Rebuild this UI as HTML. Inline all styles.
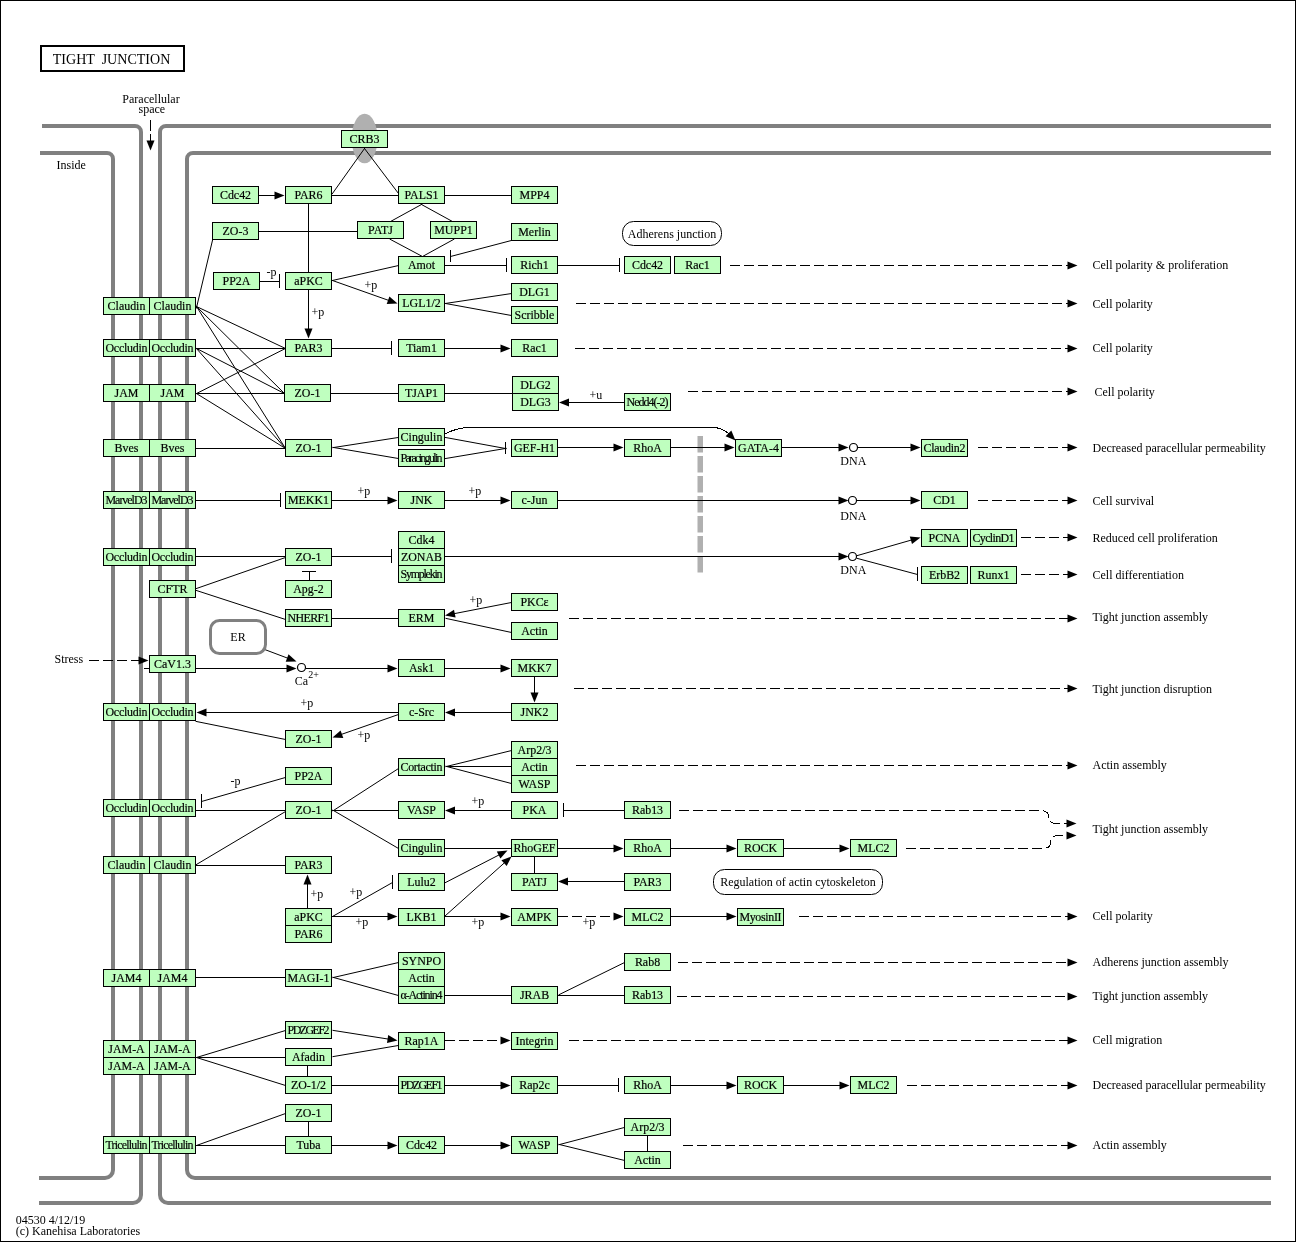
<!DOCTYPE html>
<html lang="en"><head><meta charset="utf-8"><title>Tight junction</title>
<style>html,body{margin:0;padding:0;background:#fff}svg{display:block}text{font-family:"Liberation Serif",serif;font-size:12px;fill:#000}.b{fill:#BFFFBF;stroke:#000;stroke-width:1}.l{stroke:#000;stroke-width:1;fill:none}.d{stroke:#000;stroke-width:1;fill:none;stroke-dasharray:10 4}.m{stroke:#808080;stroke-width:4;fill:none}.g{fill:#b0b0b0}.t{text-anchor:middle}.bl text{font-size:13.5px;text-anchor:middle;stroke:#000;stroke-width:.2px}</style></head><body>
<svg width="1296" height="1242" viewBox="0 0 1296 1242">
<rect x="0" y="0" width="1296" height="1242" fill="#fff"/>
<g transform="translate(0.5,0.5)">
<rect x="0" y="0" width="1295" height="1241" fill="none" stroke="#000" shape-rendering="crispEdges"/>
<g transform="translate(-0.5,-0.5)">
<path class="m" d="M42 126H135A6 6 0 0 1 141 132V1195A8 8 0 0 1 133 1203H39"/>
<path class="m" d="M40 153H107A6 6 0 0 1 113 159V1170A8 8 0 0 1 105 1178H39"/>
<path class="m" d="M1271 126H166A6 6 0 0 0 160 132V1195A8 8 0 0 0 168 1203H1271"/>
<path class="m" d="M1271 153H193A6 6 0 0 0 187 159V1170A8 8 0 0 0 195 1178H1271"/>
<ellipse class="g" cx="364.6" cy="138.5" rx="13" ry="24.8"/>
<rect class="g" x="697.5" y="436" width="5.5" height="16.5"/>
<rect class="g" x="697.5" y="456" width="5.5" height="16.5"/>
<rect class="g" x="697.5" y="476" width="5.5" height="16.5"/>
<rect class="g" x="697.5" y="496" width="5.5" height="16.5"/>
<rect class="g" x="697.5" y="516" width="5.5" height="16.5"/>
<rect class="g" x="697.5" y="536" width="5.5" height="16.5"/>
<rect class="g" x="697.5" y="556" width="5.5" height="16.5"/>
</g>
<g shape-rendering="crispEdges">
<line class="l" x1="258.0" y1="195.0" x2="278.0" y2="195.0"/>
<line class="l" x1="331.4" y1="193.8" x2="364.6" y2="147.2" stroke-width="0.81" shape-rendering="auto"/>
<line class="l" x1="363.4" y1="147.2" x2="398.6" y2="193.8" stroke-width="0.80" shape-rendering="auto"/>
<line class="l" x1="331.0" y1="195.0" x2="399.0" y2="195.0"/>
<line class="l" x1="444.0" y1="195.0" x2="512.0" y2="195.0"/>
<line class="l" x1="308.0" y1="203.0" x2="308.0" y2="273.0"/>
<line class="l" x1="258.0" y1="231.0" x2="358.0" y2="231.0"/>
<line class="l" x1="421.9" y1="203.5" x2="389.1" y2="221.5" stroke-width="0.88" shape-rendering="auto"/>
<line class="l" x1="420.1" y1="203.5" x2="452.9" y2="221.5" stroke-width="0.88" shape-rendering="auto"/>
<line class="l" x1="389.1" y1="238.5" x2="422.9" y2="256.5" stroke-width="0.88" shape-rendering="auto"/>
<line class="l" x1="453.9" y1="238.5" x2="421.1" y2="256.5" stroke-width="0.88" shape-rendering="auto"/>
<line class="l" x1="399.0" y1="264.8" x2="331.0" y2="280.2" stroke-width="0.98" shape-rendering="auto"/>
<line class="l" x1="331.1" y1="279.7" x2="391.3" y2="301.0" stroke-width="0.94" shape-rendering="auto"/>
<line class="l" x1="259.0" y1="281.0" x2="279.0" y2="281.0"/>
<line class="l" x1="308.0" y1="289.0" x2="308.0" y2="332.0"/>
<line class="l" x1="331.0" y1="348.0" x2="391.0" y2="348.0"/>
<line class="l" x1="444.0" y1="348.0" x2="504.0" y2="348.0"/>
<line class="l" x1="330.0" y1="393.0" x2="399.0" y2="393.0"/>
<line class="l" x1="444.0" y1="393.0" x2="513.0" y2="393.0"/>
<line class="l" x1="512.0" y1="239.7" x2="450.0" y2="256.0" stroke-width="0.97" shape-rendering="auto"/>
<line class="l" x1="444.0" y1="265.0" x2="506.0" y2="265.0"/>
<line class="l" x1="557.0" y1="265.0" x2="619.0" y2="265.0"/>
<line class="l" x1="444.0" y1="303.1" x2="512.0" y2="292.9" stroke-width="0.99" shape-rendering="auto"/>
<line class="l" x1="444.0" y1="302.8" x2="512.0" y2="315.2" stroke-width="0.98" shape-rendering="auto"/>
<line class="l" x1="212.2" y1="239.0" x2="195.8" y2="308.0" stroke-width="0.97" shape-rendering="auto"/>
<line class="l" x1="625.0" y1="402.0" x2="564.5" y2="402.0"/>
<line class="l" x1="195.1" y1="305.6" x2="285.9" y2="348.4" stroke-width="0.90" shape-rendering="auto"/>
<line class="l" x1="195.3" y1="305.3" x2="284.7" y2="393.7" stroke-width="0.71" shape-rendering="auto"/>
<line class="l" x1="195.5" y1="305.2" x2="285.5" y2="448.8" stroke-width="0.85" shape-rendering="auto"/>
<line class="l" x1="195.0" y1="348.0" x2="286.0" y2="348.0"/>
<line class="l" x1="195.1" y1="347.5" x2="284.9" y2="393.5" stroke-width="0.89" shape-rendering="auto"/>
<line class="l" x1="195.3" y1="347.3" x2="285.7" y2="448.7" stroke-width="0.75" shape-rendering="auto"/>
<line class="l" x1="195.1" y1="393.5" x2="285.9" y2="347.5" stroke-width="0.89" shape-rendering="auto"/>
<line class="l" x1="195.0" y1="393.0" x2="285.0" y2="393.0"/>
<line class="l" x1="195.1" y1="392.5" x2="285.9" y2="448.5" stroke-width="0.85" shape-rendering="auto"/>
<line class="l" x1="195.0" y1="448.0" x2="286.0" y2="448.0"/>
<line class="l" x1="332.0" y1="447.2" x2="399.0" y2="436.8" stroke-width="0.99" shape-rendering="auto"/>
<line class="l" x1="332.0" y1="446.8" x2="399.0" y2="458.2" stroke-width="0.99" shape-rendering="auto"/>
<line class="l" x1="444.0" y1="436.8" x2="506.0" y2="448.2" stroke-width="0.98" shape-rendering="auto"/>
<line class="l" x1="444.0" y1="458.2" x2="506.0" y2="447.8" stroke-width="0.99" shape-rendering="auto"/>
<line class="l" x1="557.0" y1="447.0" x2="617.0" y2="447.0"/>
<line class="l" x1="670.0" y1="447.0" x2="728.0" y2="447.0"/>
<line class="l" x1="781.0" y1="447.0" x2="842.0" y2="447.0"/>
<line class="l" x1="857.0" y1="447.0" x2="914.0" y2="447.0"/>
<line class="l" x1="195.0" y1="500.0" x2="280.0" y2="500.0"/>
<line class="l" x1="331.0" y1="500.0" x2="391.0" y2="500.0"/>
<line class="l" x1="444.0" y1="500.0" x2="504.0" y2="500.0"/>
<line class="l" x1="557.0" y1="500.0" x2="842.0" y2="500.0"/>
<line class="l" x1="856.0" y1="500.0" x2="914.0" y2="500.0"/>
<line class="l" x1="195.0" y1="556.0" x2="286.0" y2="556.0"/>
<line class="l" x1="331.0" y1="556.0" x2="391.0" y2="556.0"/>
<line class="l" x1="444.0" y1="556.0" x2="842.0" y2="556.0"/>
<line class="l" x1="856.0" y1="555.3" x2="914.2" y2="538.6" stroke-width="0.96" shape-rendering="auto"/>
<line class="l" x1="856.0" y1="557.7" x2="917.0" y2="574.0" stroke-width="0.97" shape-rendering="auto"/>
<line class="l" x1="309.0" y1="581.0" x2="309.0" y2="570.0"/>
<line class="l" x1="195.1" y1="588.3" x2="285.9" y2="556.7" stroke-width="0.94" shape-rendering="auto"/>
<line class="l" x1="195.0" y1="589.7" x2="286.0" y2="619.3" stroke-width="0.95" shape-rendering="auto"/>
<line class="l" x1="331.0" y1="618.0" x2="399.0" y2="618.0"/>
<line class="l" x1="512.0" y1="601.8" x2="450.4" y2="613.8" stroke-width="0.98" shape-rendering="auto"/>
<line class="l" x1="445.0" y1="617.8" x2="512.0" y2="632.2" stroke-width="0.98" shape-rendering="auto"/>
<line class="d" x1="88.0" y1="660.0" x2="142.0" y2="660.0"/>
<line class="l" x1="143.0" y1="668.0" x2="150.0" y2="668.0"/>
<line class="l" x1="195.0" y1="668.0" x2="290.0" y2="668.0"/>
<line class="l" x1="305.0" y1="668.0" x2="391.0" y2="668.0"/>
<line class="l" x1="444.0" y1="668.0" x2="504.0" y2="668.0"/>
<line class="l" x1="263.1" y1="648.6" x2="290.4" y2="658.9" stroke-width="0.94" shape-rendering="auto"/>
<line class="l" x1="534.0" y1="676.0" x2="534.0" y2="696.0"/>
<line class="l" x1="512.0" y1="712.0" x2="450.5" y2="712.0"/>
<line class="l" x1="399.0" y1="712.0" x2="202.0" y2="712.0"/>
<line class="l" x1="398.9" y1="713.7" x2="337.7" y2="735.0" stroke-width="0.94" shape-rendering="auto"/>
<line class="l" x1="195.0" y1="720.8" x2="286.0" y2="739.2" stroke-width="0.98" shape-rendering="auto"/>
<line class="l" x1="445.0" y1="766.2" x2="512.0" y2="749.8" stroke-width="0.97" shape-rendering="auto"/>
<line class="l" x1="445.0" y1="766.0" x2="512.0" y2="766.0"/>
<line class="l" x1="445.0" y1="765.7" x2="512.0" y2="783.3" stroke-width="0.97" shape-rendering="auto"/>
<line class="l" x1="332.2" y1="810.5" x2="398.8" y2="767.5" stroke-width="0.84" shape-rendering="auto"/>
<line class="l" x1="331.0" y1="810.0" x2="399.0" y2="810.0"/>
<line class="l" x1="332.1" y1="809.5" x2="398.9" y2="848.5" stroke-width="0.86" shape-rendering="auto"/>
<line class="l" x1="286.0" y1="776.7" x2="201.0" y2="801.0" stroke-width="0.96" shape-rendering="auto"/>
<line class="l" x1="195.0" y1="810.0" x2="286.0" y2="810.0"/>
<line class="l" x1="195.1" y1="864.5" x2="285.9" y2="810.5" stroke-width="0.86" shape-rendering="auto"/>
<line class="l" x1="195.0" y1="865.0" x2="286.0" y2="865.0"/>
<line class="l" x1="512.0" y1="810.0" x2="450.5" y2="810.0"/>
<line class="l" x1="625.0" y1="810.0" x2="563.0" y2="810.0"/>
<line class="l" x1="444.0" y1="848.0" x2="512.0" y2="848.0"/>
<line class="l" x1="557.0" y1="848.0" x2="617.0" y2="848.0"/>
<line class="l" x1="670.0" y1="848.0" x2="730.0" y2="848.0"/>
<line class="l" x1="783.0" y1="848.0" x2="843.0" y2="848.0"/>
<line class="l" x1="534.0" y1="856.0" x2="534.0" y2="874.0"/>
<line class="l" x1="625.0" y1="881.0" x2="563.5" y2="881.0"/>
<line class="l" x1="307.0" y1="909.0" x2="307.0" y2="880.0"/>
<line class="l" x1="331.1" y1="916.5" x2="392.0" y2="882.0" stroke-width="0.87" shape-rendering="auto"/>
<line class="l" x1="331.0" y1="916.0" x2="391.0" y2="916.0"/>
<line class="l" x1="444.1" y1="882.5" x2="501.7" y2="852.8" stroke-width="0.89" shape-rendering="auto"/>
<line class="l" x1="444.3" y1="915.7" x2="506.5" y2="860.0" stroke-width="0.75" shape-rendering="auto"/>
<line class="l" x1="444.0" y1="916.0" x2="504.0" y2="916.0"/>
<line class="d" x1="557.0" y1="916.0" x2="617.0" y2="916.0"/>
<line class="l" x1="670.0" y1="916.0" x2="730.0" y2="916.0"/>
<line class="l" x1="195.0" y1="977.0" x2="286.0" y2="977.0"/>
<line class="l" x1="332.0" y1="977.2" x2="399.0" y2="961.8" stroke-width="0.97" shape-rendering="auto"/>
<line class="l" x1="332.0" y1="976.7" x2="399.0" y2="995.3" stroke-width="0.96" shape-rendering="auto"/>
<line class="l" x1="444.0" y1="995.0" x2="512.0" y2="995.0"/>
<line class="l" x1="557.0" y1="995.0" x2="625.0" y2="995.0"/>
<line class="l" x1="558.1" y1="994.4" x2="624.9" y2="961.6" stroke-width="0.90" shape-rendering="auto"/>
<line class="l" x1="195.0" y1="1057.3" x2="286.0" y2="1029.7" stroke-width="0.96" shape-rendering="auto"/>
<line class="l" x1="195.0" y1="1057.0" x2="286.0" y2="1057.0"/>
<line class="l" x1="195.0" y1="1056.7" x2="286.0" y2="1085.3" stroke-width="0.95" shape-rendering="auto"/>
<line class="l" x1="332.0" y1="1029.8" x2="391.1" y2="1039.1" stroke-width="0.99" shape-rendering="auto"/>
<line class="l" x1="332.0" y1="1056.2" x2="399.0" y2="1044.8" stroke-width="0.99" shape-rendering="auto"/>
<line class="l" x1="307.0" y1="1065.0" x2="307.0" y2="1077.0"/>
<line class="d" x1="444.0" y1="1040.0" x2="504.0" y2="1040.0"/>
<line class="l" x1="331.0" y1="1085.0" x2="399.0" y2="1085.0"/>
<line class="l" x1="444.0" y1="1085.0" x2="504.0" y2="1085.0"/>
<line class="l" x1="557.0" y1="1085.0" x2="618.0" y2="1085.0"/>
<line class="l" x1="670.0" y1="1085.0" x2="730.0" y2="1085.0"/>
<line class="l" x1="783.0" y1="1085.0" x2="843.0" y2="1085.0"/>
<line class="l" x1="195.1" y1="1145.3" x2="285.9" y2="1112.7" stroke-width="0.94" shape-rendering="auto"/>
<line class="l" x1="195.0" y1="1145.0" x2="286.0" y2="1145.0"/>
<line class="l" x1="308.0" y1="1121.0" x2="308.0" y2="1137.0"/>
<line class="l" x1="331.0" y1="1145.0" x2="391.0" y2="1145.0"/>
<line class="l" x1="444.0" y1="1145.0" x2="504.0" y2="1145.0"/>
<line class="l" x1="558.0" y1="1144.3" x2="625.0" y2="1126.7" stroke-width="0.97" shape-rendering="auto"/>
<line class="l" x1="558.0" y1="1143.8" x2="625.0" y2="1160.2" stroke-width="0.97" shape-rendering="auto"/>
<line class="l" x1="647.0" y1="1135.0" x2="647.0" y2="1152.0"/>
<line class="d" x1="729.0" y1="265.0" x2="1071.0" y2="265.0"/>
<line class="d" x1="575.0" y1="303.0" x2="1071.0" y2="303.0"/>
<line class="d" x1="574.0" y1="348.0" x2="1071.0" y2="348.0"/>
<line class="d" x1="687.0" y1="391.0" x2="1071.0" y2="391.0"/>
<line class="d" x1="977.0" y1="447.0" x2="1071.0" y2="447.0"/>
<line class="d" x1="977.0" y1="500.0" x2="1071.0" y2="500.0"/>
<line class="d" x1="1020.0" y1="537.0" x2="1071.0" y2="537.0"/>
<line class="d" x1="1020.0" y1="574.0" x2="1071.0" y2="574.0"/>
<line class="d" x1="568.0" y1="618.0" x2="1071.0" y2="618.0"/>
<line class="d" x1="573.0" y1="688.0" x2="1071.0" y2="688.0"/>
<line class="d" x1="575.0" y1="765.0" x2="1071.0" y2="765.0"/>
<line class="d" x1="798.0" y1="916.0" x2="1071.0" y2="916.0"/>
<line class="d" x1="677.0" y1="962.0" x2="1071.0" y2="962.0"/>
<line class="d" x1="676.0" y1="996.0" x2="1071.0" y2="996.0"/>
<line class="d" x1="568.0" y1="1040.0" x2="1071.0" y2="1040.0"/>
<line class="d" x1="906.0" y1="1085.0" x2="1071.0" y2="1085.0"/>
<line class="d" x1="682.0" y1="1145.0" x2="1071.0" y2="1145.0"/>
<path class="l" d="M445 433Q458 427 468 427H712Q722 427 729 434"/>
<path class="d" d="M678 810H1040Q1048 810 1048 816Q1048 823 1056 823H1068"/>
<path class="d" d="M905 848H1042Q1050 848 1050 842Q1050 835 1058 835H1068"/>
<line class="l" x1="279.0" y1="273.5" x2="279.0" y2="287.5"/>
<line class="l" x1="391.0" y1="340.5" x2="391.0" y2="354.5"/>
<line class="l" x1="450.0" y1="249.5" x2="450.0" y2="261.5"/>
<line class="l" x1="506.0" y1="257.5" x2="506.0" y2="271.5"/>
<line class="l" x1="619.0" y1="257.5" x2="619.0" y2="271.5"/>
<line class="l" x1="505.0" y1="441.5" x2="505.0" y2="453.5"/>
<line class="l" x1="280.0" y1="492.5" x2="280.0" y2="506.5"/>
<line class="l" x1="391.0" y1="548.5" x2="391.0" y2="562.5"/>
<line class="l" x1="917.0" y1="566.5" x2="917.0" y2="580.5"/>
<line class="l" x1="301.5" y1="571.0" x2="315.5" y2="571.0"/>
<line class="l" x1="201.0" y1="793.5" x2="201.0" y2="807.5"/>
<line class="l" x1="563.0" y1="802.5" x2="563.0" y2="816.5"/>
<line class="l" x1="392.0" y1="874.5" x2="392.0" y2="888.5"/>
<line class="l" x1="618.0" y1="1077.5" x2="618.0" y2="1091.5"/>
</g>
<polygon points="284.0,195.0 274.0,199.0 274.0,191.0" fill="#000"/>
<polygon points="397.0,303.0 386.2,303.4 388.9,295.9" fill="#000"/>
<polygon points="308.0,338.0 304.0,328.0 312.0,328.0" fill="#000"/>
<polygon points="510.0,348.0 500.0,352.0 500.0,344.0" fill="#000"/>
<polygon points="558.5,402.0 568.5,398.0 568.5,406.0" fill="#000"/>
<polygon points="623.0,447.0 613.0,451.0 613.0,443.0" fill="#000"/>
<polygon points="734.0,447.0 724.0,451.0 724.0,443.0" fill="#000"/>
<polygon points="848.0,447.0 838.0,451.0 838.0,443.0" fill="#000"/>
<polygon points="920.0,447.0 910.0,451.0 910.0,443.0" fill="#000"/>
<polygon points="397.0,500.0 387.0,504.0 387.0,496.0" fill="#000"/>
<polygon points="510.0,500.0 500.0,504.0 500.0,496.0" fill="#000"/>
<polygon points="848.0,500.0 838.0,504.0 838.0,496.0" fill="#000"/>
<polygon points="920.0,500.0 910.0,504.0 910.0,496.0" fill="#000"/>
<polygon points="848.0,556.0 838.0,560.0 838.0,552.0" fill="#000"/>
<polygon points="920.0,537.0 911.5,543.6 909.3,535.9" fill="#000"/>
<polygon points="444.5,615.0 453.5,609.2 455.1,617.0" fill="#000"/>
<polygon points="148.0,660.0 138.0,664.0 138.0,656.0" fill="#000"/>
<polygon points="296.0,668.0 286.0,672.0 286.0,664.0" fill="#000"/>
<polygon points="397.0,668.0 387.0,672.0 387.0,664.0" fill="#000"/>
<polygon points="510.0,668.0 500.0,672.0 500.0,664.0" fill="#000"/>
<polygon points="296.0,661.0 285.2,661.2 288.0,653.7" fill="#000"/>
<polygon points="534.0,702.0 530.0,692.0 538.0,692.0" fill="#000"/>
<polygon points="444.5,712.0 454.5,708.0 454.5,716.0" fill="#000"/>
<polygon points="196.0,712.0 206.0,708.0 206.0,716.0" fill="#000"/>
<polygon points="332.0,737.0 340.1,729.9 342.8,737.5" fill="#000"/>
<polygon points="444.5,810.0 454.5,806.0 454.5,814.0" fill="#000"/>
<polygon points="623.0,848.0 613.0,852.0 613.0,844.0" fill="#000"/>
<polygon points="736.0,848.0 726.0,852.0 726.0,844.0" fill="#000"/>
<polygon points="849.0,848.0 839.0,852.0 839.0,844.0" fill="#000"/>
<polygon points="557.5,881.0 567.5,877.0 567.5,885.0" fill="#000"/>
<polygon points="307.0,874.0 311.0,884.0 303.0,884.0" fill="#000"/>
<polygon points="397.0,916.0 387.0,920.0 387.0,912.0" fill="#000"/>
<polygon points="507.0,850.0 499.9,858.1 496.3,851.0" fill="#000"/>
<polygon points="511.0,856.0 506.2,865.6 500.9,859.7" fill="#000"/>
<polygon points="510.0,916.0 500.0,920.0 500.0,912.0" fill="#000"/>
<polygon points="623.0,916.0 613.0,920.0 613.0,912.0" fill="#000"/>
<polygon points="736.0,916.0 726.0,920.0 726.0,912.0" fill="#000"/>
<polygon points="397.0,1040.0 386.5,1042.4 387.7,1034.5" fill="#000"/>
<polygon points="510.0,1040.0 500.0,1044.0 500.0,1036.0" fill="#000"/>
<polygon points="510.0,1085.0 500.0,1089.0 500.0,1081.0" fill="#000"/>
<polygon points="736.0,1085.0 726.0,1089.0 726.0,1081.0" fill="#000"/>
<polygon points="849.0,1085.0 839.0,1089.0 839.0,1081.0" fill="#000"/>
<polygon points="397.0,1145.0 387.0,1149.0 387.0,1141.0" fill="#000"/>
<polygon points="510.0,1145.0 500.0,1149.0 500.0,1141.0" fill="#000"/>
<polygon points="1077.0,265.0 1067.0,269.0 1067.0,261.0" fill="#000"/>
<polygon points="1077.0,303.0 1067.0,307.0 1067.0,299.0" fill="#000"/>
<polygon points="1077.0,348.0 1067.0,352.0 1067.0,344.0" fill="#000"/>
<polygon points="1077.0,391.0 1067.0,395.0 1067.0,387.0" fill="#000"/>
<polygon points="1077.0,447.0 1067.0,451.0 1067.0,443.0" fill="#000"/>
<polygon points="1077.0,500.0 1067.0,504.0 1067.0,496.0" fill="#000"/>
<polygon points="1077.0,537.0 1067.0,541.0 1067.0,533.0" fill="#000"/>
<polygon points="1077.0,574.0 1067.0,578.0 1067.0,570.0" fill="#000"/>
<polygon points="1077.0,618.0 1067.0,622.0 1067.0,614.0" fill="#000"/>
<polygon points="1077.0,688.0 1067.0,692.0 1067.0,684.0" fill="#000"/>
<polygon points="1077.0,765.0 1067.0,769.0 1067.0,761.0" fill="#000"/>
<polygon points="1077.0,916.0 1067.0,920.0 1067.0,912.0" fill="#000"/>
<polygon points="1077.0,962.0 1067.0,966.0 1067.0,958.0" fill="#000"/>
<polygon points="1077.0,996.0 1067.0,1000.0 1067.0,992.0" fill="#000"/>
<polygon points="1077.0,1040.0 1067.0,1044.0 1067.0,1036.0" fill="#000"/>
<polygon points="1077.0,1085.0 1067.0,1089.0 1067.0,1081.0" fill="#000"/>
<polygon points="1077.0,1145.0 1067.0,1149.0 1067.0,1141.0" fill="#000"/>
<polygon points="735.0,440.0 725.1,435.8 730.8,430.1" fill="#000"/>
<polygon points="1076.0,823.0 1066.0,827.0 1066.0,819.0" fill="#000"/>
<polygon points="1076.0,835.0 1066.0,839.0 1066.0,831.0" fill="#000"/>
<circle cx="853" cy="447" r="4" fill="#fff" stroke="#000" stroke-width="1.2"/>
<circle cx="852" cy="500" r="4" fill="#fff" stroke="#000" stroke-width="1.2"/>
<circle cx="852" cy="556" r="4" fill="#fff" stroke="#000" stroke-width="1.2"/>
<circle cx="301" cy="667" r="4" fill="#fff" stroke="#000" stroke-width="1.2"/>
<g shape-rendering="crispEdges">
<rect class="b" x="103" y="297" width="46" height="17"/>
<rect class="b" x="149" y="297" width="46" height="17"/>
<rect class="b" x="103" y="339" width="46" height="17"/>
<rect class="b" x="149" y="339" width="46" height="17"/>
<rect class="b" x="103" y="384" width="46" height="17"/>
<rect class="b" x="149" y="384" width="46" height="17"/>
<rect class="b" x="103" y="439" width="46" height="17"/>
<rect class="b" x="149" y="439" width="46" height="17"/>
<rect class="b" x="103" y="491" width="46" height="17"/>
<rect class="b" x="149" y="491" width="46" height="17"/>
<rect class="b" x="103" y="548" width="46" height="17"/>
<rect class="b" x="149" y="548" width="46" height="17"/>
<rect class="b" x="103" y="703" width="46" height="17"/>
<rect class="b" x="149" y="703" width="46" height="17"/>
<rect class="b" x="103" y="799" width="46" height="17"/>
<rect class="b" x="149" y="799" width="46" height="17"/>
<rect class="b" x="103" y="856" width="46" height="17"/>
<rect class="b" x="149" y="856" width="46" height="17"/>
<rect class="b" x="103" y="969" width="46" height="17"/>
<rect class="b" x="149" y="969" width="46" height="17"/>
<rect class="b" x="103" y="1040" width="46" height="17"/>
<rect class="b" x="149" y="1040" width="46" height="17"/>
<rect class="b" x="103" y="1057" width="46" height="17"/>
<rect class="b" x="149" y="1057" width="46" height="17"/>
<rect class="b" x="103" y="1136" width="46" height="17"/>
<rect class="b" x="149" y="1136" width="46" height="17"/>
<rect class="b" x="149" y="580" width="46" height="17"/>
<rect class="b" x="149" y="655" width="46" height="17"/>
<rect class="b" x="341" y="130" width="46" height="17"/>
<rect class="b" x="212" y="186" width="46" height="17"/>
<rect class="b" x="285" y="186" width="46" height="17"/>
<rect class="b" x="398" y="186" width="46" height="17"/>
<rect class="b" x="511" y="186" width="46" height="17"/>
<rect class="b" x="212" y="222" width="46" height="17"/>
<rect class="b" x="357" y="221" width="46" height="17"/>
<rect class="b" x="430" y="221" width="46" height="17"/>
<rect class="b" x="511" y="223" width="46" height="17"/>
<rect class="b" x="398" y="256" width="46" height="17"/>
<rect class="b" x="511" y="256" width="46" height="17"/>
<rect class="b" x="624" y="256" width="46" height="17"/>
<rect class="b" x="674" y="256" width="46" height="17"/>
<rect class="b" x="213" y="272" width="46" height="17"/>
<rect class="b" x="285" y="272" width="46" height="17"/>
<rect class="b" x="511" y="283" width="46" height="17"/>
<rect class="b" x="398" y="294" width="46" height="17"/>
<rect class="b" x="511" y="306" width="46" height="17"/>
<rect class="b" x="285" y="339" width="46" height="17"/>
<rect class="b" x="398" y="339" width="46" height="17"/>
<rect class="b" x="511" y="339" width="46" height="17"/>
<rect class="b" x="512" y="376" width="46" height="17"/>
<rect class="b" x="512" y="393" width="46" height="17"/>
<rect class="b" x="284" y="384" width="46" height="17"/>
<rect class="b" x="398" y="384" width="46" height="17"/>
<rect class="b" x="624" y="393" width="46" height="17"/>
<rect class="b" x="398" y="428" width="46" height="17"/>
<rect class="b" x="398" y="449" width="46" height="17"/>
<rect class="b" x="285" y="439" width="46" height="17"/>
<rect class="b" x="511" y="439" width="46" height="17"/>
<rect class="b" x="624" y="439" width="46" height="17"/>
<rect class="b" x="735" y="439" width="46" height="17"/>
<rect class="b" x="921" y="439" width="46" height="17"/>
<rect class="b" x="285" y="491" width="46" height="17"/>
<rect class="b" x="398" y="491" width="46" height="17"/>
<rect class="b" x="511" y="491" width="46" height="17"/>
<rect class="b" x="921" y="491" width="46" height="17"/>
<rect class="b" x="398" y="531" width="46" height="17"/>
<rect class="b" x="398" y="548" width="46" height="17"/>
<rect class="b" x="398" y="565" width="46" height="17"/>
<rect class="b" x="285" y="548" width="46" height="17"/>
<rect class="b" x="921" y="529" width="46" height="17"/>
<rect class="b" x="970" y="529" width="46" height="17"/>
<rect class="b" x="921" y="566" width="46" height="17"/>
<rect class="b" x="970" y="566" width="46" height="17"/>
<rect class="b" x="285" y="580" width="46" height="17"/>
<rect class="b" x="511" y="593" width="46" height="17"/>
<rect class="b" x="285" y="609" width="46" height="17"/>
<rect class="b" x="398" y="609" width="46" height="17"/>
<rect class="b" x="511" y="622" width="46" height="17"/>
<rect class="b" x="398" y="659" width="46" height="17"/>
<rect class="b" x="511" y="659" width="46" height="17"/>
<rect class="b" x="398" y="703" width="46" height="17"/>
<rect class="b" x="511" y="703" width="46" height="17"/>
<rect class="b" x="285" y="730" width="46" height="17"/>
<rect class="b" x="511" y="741" width="46" height="17"/>
<rect class="b" x="511" y="758" width="46" height="17"/>
<rect class="b" x="511" y="775" width="46" height="17"/>
<rect class="b" x="398" y="758" width="46" height="17"/>
<rect class="b" x="285" y="767" width="46" height="17"/>
<rect class="b" x="285" y="801" width="46" height="17"/>
<rect class="b" x="398" y="801" width="46" height="17"/>
<rect class="b" x="511" y="801" width="46" height="17"/>
<rect class="b" x="624" y="801" width="46" height="17"/>
<rect class="b" x="398" y="839" width="46" height="17"/>
<rect class="b" x="511" y="839" width="46" height="17"/>
<rect class="b" x="624" y="839" width="46" height="17"/>
<rect class="b" x="737" y="839" width="46" height="17"/>
<rect class="b" x="850" y="839" width="46" height="17"/>
<rect class="b" x="285" y="856" width="46" height="17"/>
<rect class="b" x="398" y="873" width="46" height="17"/>
<rect class="b" x="511" y="873" width="46" height="17"/>
<rect class="b" x="624" y="873" width="46" height="17"/>
<rect class="b" x="285" y="908" width="46" height="17"/>
<rect class="b" x="285" y="925" width="46" height="17"/>
<rect class="b" x="398" y="908" width="46" height="17"/>
<rect class="b" x="511" y="908" width="46" height="17"/>
<rect class="b" x="624" y="908" width="46" height="17"/>
<rect class="b" x="737" y="908" width="46" height="17"/>
<rect class="b" x="398" y="952" width="46" height="17"/>
<rect class="b" x="398" y="969" width="46" height="17"/>
<rect class="b" x="398" y="986" width="46" height="17"/>
<rect class="b" x="285" y="969" width="46" height="17"/>
<rect class="b" x="624" y="953" width="46" height="17"/>
<rect class="b" x="511" y="986" width="46" height="17"/>
<rect class="b" x="624" y="986" width="46" height="17"/>
<rect class="b" x="285" y="1021" width="46" height="17"/>
<rect class="b" x="285" y="1048" width="46" height="17"/>
<rect class="b" x="285" y="1076" width="46" height="17"/>
<rect class="b" x="398" y="1076" width="46" height="17"/>
<rect class="b" x="511" y="1076" width="46" height="17"/>
<rect class="b" x="624" y="1076" width="46" height="17"/>
<rect class="b" x="737" y="1076" width="46" height="17"/>
<rect class="b" x="850" y="1076" width="46" height="17"/>
<rect class="b" x="398" y="1032" width="46" height="17"/>
<rect class="b" x="511" y="1032" width="46" height="17"/>
<rect class="b" x="285" y="1104" width="46" height="17"/>
<rect class="b" x="285" y="1136" width="46" height="17"/>
<rect class="b" x="398" y="1136" width="46" height="17"/>
<rect class="b" x="511" y="1136" width="46" height="17"/>
<rect class="b" x="624" y="1118" width="46" height="17"/>
<rect class="b" x="624" y="1151" width="46" height="17"/>
</g>
<rect x="40.5" y="45.5" width="143" height="25" fill="#fff" stroke="#000" stroke-width="2" shape-rendering="crispEdges"/>
<rect x="622" y="221" width="99" height="24" rx="11" ry="11" fill="#fff" stroke="#000"/>
<rect x="713" y="869" width="169" height="25" rx="11" ry="11" fill="#fff" stroke="#000"/>
<rect x="210" y="620" width="55" height="33" rx="9" ry="9" fill="#fff" stroke="#808080" stroke-width="3"/>
<line class="d" x1="150" y1="119" x2="150" y2="142" shape-rendering="crispEdges" style="stroke-dasharray:11 3"/>
<polygon points="150,150 146,140 154,140" fill="#000"/>
</g>
<g class="bl">
<text transform="translate(126.5 310.4) scale(0.885 1)">Claudin</text>
<text transform="translate(172.5 310.4) scale(0.885 1)">Claudin</text>
<text transform="translate(126.5 352.4) scale(0.885 1)" textLength="47.5" lengthAdjust="spacing">Occludin</text>
<text transform="translate(172.5 352.4) scale(0.885 1)" textLength="47.5" lengthAdjust="spacing">Occludin</text>
<text transform="translate(126.5 397.4) scale(0.885 1)">JAM</text>
<text transform="translate(172.5 397.4) scale(0.885 1)">JAM</text>
<text transform="translate(126.5 452.4) scale(0.885 1)">Bves</text>
<text transform="translate(172.5 452.4) scale(0.885 1)">Bves</text>
<text transform="translate(126.5 504.4) scale(0.885 1)" textLength="47.5" lengthAdjust="spacing">MarvelD3</text>
<text transform="translate(172.5 504.4) scale(0.885 1)" textLength="47.5" lengthAdjust="spacing">MarvelD3</text>
<text transform="translate(126.5 561.4) scale(0.885 1)" textLength="47.5" lengthAdjust="spacing">Occludin</text>
<text transform="translate(172.5 561.4) scale(0.885 1)" textLength="47.5" lengthAdjust="spacing">Occludin</text>
<text transform="translate(126.5 716.4) scale(0.885 1)" textLength="47.5" lengthAdjust="spacing">Occludin</text>
<text transform="translate(172.5 716.4) scale(0.885 1)" textLength="47.5" lengthAdjust="spacing">Occludin</text>
<text transform="translate(126.5 812.4) scale(0.885 1)" textLength="47.5" lengthAdjust="spacing">Occludin</text>
<text transform="translate(172.5 812.4) scale(0.885 1)" textLength="47.5" lengthAdjust="spacing">Occludin</text>
<text transform="translate(126.5 869.4) scale(0.885 1)">Claudin</text>
<text transform="translate(172.5 869.4) scale(0.885 1)">Claudin</text>
<text transform="translate(126.5 982.4) scale(0.885 1)">JAM4</text>
<text transform="translate(172.5 982.4) scale(0.885 1)">JAM4</text>
<text transform="translate(126.5 1053.4) scale(0.885 1)">JAM-A</text>
<text transform="translate(172.5 1053.4) scale(0.885 1)">JAM-A</text>
<text transform="translate(126.5 1070.4) scale(0.885 1)">JAM-A</text>
<text transform="translate(172.5 1070.4) scale(0.885 1)">JAM-A</text>
<text transform="translate(126.5 1149.4) scale(0.885 1)" textLength="47.5" lengthAdjust="spacing">Tricellulin</text>
<text transform="translate(172.5 1149.4) scale(0.885 1)" textLength="47.5" lengthAdjust="spacing">Tricellulin</text>
<text transform="translate(172.5 593.4) scale(0.885 1)">CFTR</text>
<text transform="translate(172.5 668.4) scale(0.885 1)">CaV1.3</text>
<text transform="translate(364.5 143.4) scale(0.885 1)">CRB3</text>
<text transform="translate(235.5 199.4) scale(0.885 1)">Cdc42</text>
<text transform="translate(308.5 199.4) scale(0.885 1)">PAR6</text>
<text transform="translate(421.5 199.4) scale(0.885 1)">PALS1</text>
<text transform="translate(534.5 199.4) scale(0.885 1)">MPP4</text>
<text transform="translate(235.5 235.4) scale(0.885 1)">ZO-3</text>
<text transform="translate(380.5 234.4) scale(0.885 1)">PATJ</text>
<text transform="translate(453.5 234.4) scale(0.885 1)">MUPP1</text>
<text transform="translate(534.5 236.4) scale(0.885 1)">Merlin</text>
<text transform="translate(421.5 269.4) scale(0.885 1)">Amot</text>
<text transform="translate(534.5 269.4) scale(0.885 1)">Rich1</text>
<text transform="translate(647.5 269.4) scale(0.885 1)">Cdc42</text>
<text transform="translate(697.5 269.4) scale(0.885 1)">Rac1</text>
<text transform="translate(236.5 285.4) scale(0.885 1)">PP2A</text>
<text transform="translate(308.5 285.4) scale(0.885 1)">aPKC</text>
<text transform="translate(534.5 296.4) scale(0.885 1)">DLG1</text>
<text transform="translate(421.5 307.4) scale(0.885 1)">LGL1/2</text>
<text transform="translate(534.5 319.4) scale(0.885 1)">Scribble</text>
<text transform="translate(308.5 352.4) scale(0.885 1)">PAR3</text>
<text transform="translate(421.5 352.4) scale(0.885 1)">Tiam1</text>
<text transform="translate(534.5 352.4) scale(0.885 1)">Rac1</text>
<text transform="translate(535.5 389.4) scale(0.885 1)">DLG2</text>
<text transform="translate(535.5 406.4) scale(0.885 1)">DLG3</text>
<text transform="translate(307.5 397.4) scale(0.885 1)">ZO-1</text>
<text transform="translate(421.5 397.4) scale(0.885 1)">TJAP1</text>
<text transform="translate(647.5 406.4) scale(0.885 1)" textLength="47.5" lengthAdjust="spacing">Nedd4(-2)</text>
<text transform="translate(421.5 441.4) scale(0.885 1)">Cingulin</text>
<text transform="translate(421.5 462.4) scale(0.885 1)" textLength="47.5" lengthAdjust="spacing">Paracingulin</text>
<text transform="translate(308.5 452.4) scale(0.885 1)">ZO-1</text>
<text transform="translate(534.5 452.4) scale(0.885 1)">GEF-H1</text>
<text transform="translate(647.5 452.4) scale(0.885 1)">RhoA</text>
<text transform="translate(758.5 452.4) scale(0.885 1)">GATA-4</text>
<text transform="translate(944.5 452.4) scale(0.885 1)" textLength="47.5" lengthAdjust="spacing">Claudin2</text>
<text transform="translate(308.5 504.4) scale(0.885 1)">MEKK1</text>
<text transform="translate(421.5 504.4) scale(0.885 1)">JNK</text>
<text transform="translate(534.5 504.4) scale(0.885 1)">c-Jun</text>
<text transform="translate(944.5 504.4) scale(0.885 1)">CD1</text>
<text transform="translate(421.5 544.4) scale(0.885 1)">Cdk4</text>
<text transform="translate(421.5 561.4) scale(0.885 1)">ZONAB</text>
<text transform="translate(421.5 578.4) scale(0.885 1)" textLength="47.5" lengthAdjust="spacing">Symplekin</text>
<text transform="translate(308.5 561.4) scale(0.885 1)">ZO-1</text>
<text transform="translate(944.5 542.4) scale(0.885 1)">PCNA</text>
<text transform="translate(993.5 542.4) scale(0.885 1)" textLength="47.5" lengthAdjust="spacing">CyclinD1</text>
<text transform="translate(944.5 579.4) scale(0.885 1)">ErbB2</text>
<text transform="translate(993.5 579.4) scale(0.885 1)">Runx1</text>
<text transform="translate(308.5 593.4) scale(0.885 1)">Apg-2</text>
<text transform="translate(534.5 606.4) scale(0.885 1)">PKCε</text>
<text transform="translate(308.5 622.4) scale(0.885 1)" textLength="47.5" lengthAdjust="spacing">NHERF1</text>
<text transform="translate(421.5 622.4) scale(0.885 1)">ERM</text>
<text transform="translate(534.5 635.4) scale(0.885 1)">Actin</text>
<text transform="translate(421.5 672.4) scale(0.885 1)">Ask1</text>
<text transform="translate(534.5 672.4) scale(0.885 1)">MKK7</text>
<text transform="translate(421.5 716.4) scale(0.885 1)">c-Src</text>
<text transform="translate(534.5 716.4) scale(0.885 1)">JNK2</text>
<text transform="translate(308.5 743.4) scale(0.885 1)">ZO-1</text>
<text transform="translate(534.5 754.4) scale(0.885 1)">Arp2/3</text>
<text transform="translate(534.5 771.4) scale(0.885 1)">Actin</text>
<text transform="translate(534.5 788.4) scale(0.885 1)">WASP</text>
<text transform="translate(421.5 771.4) scale(0.885 1)" textLength="47.5" lengthAdjust="spacing">Cortactin</text>
<text transform="translate(308.5 780.4) scale(0.885 1)">PP2A</text>
<text transform="translate(308.5 814.4) scale(0.885 1)">ZO-1</text>
<text transform="translate(421.5 814.4) scale(0.885 1)">VASP</text>
<text transform="translate(534.5 814.4) scale(0.885 1)">PKA</text>
<text transform="translate(647.5 814.4) scale(0.885 1)">Rab13</text>
<text transform="translate(421.5 852.4) scale(0.885 1)">Cingulin</text>
<text transform="translate(534.5 852.4) scale(0.885 1)" textLength="47.5" lengthAdjust="spacing">RhoGEF</text>
<text transform="translate(647.5 852.4) scale(0.885 1)">RhoA</text>
<text transform="translate(760.5 852.4) scale(0.885 1)">ROCK</text>
<text transform="translate(873.5 852.4) scale(0.885 1)">MLC2</text>
<text transform="translate(308.5 869.4) scale(0.885 1)">PAR3</text>
<text transform="translate(421.5 886.4) scale(0.885 1)">Lulu2</text>
<text transform="translate(534.5 886.4) scale(0.885 1)">PATJ</text>
<text transform="translate(647.5 886.4) scale(0.885 1)">PAR3</text>
<text transform="translate(308.5 921.4) scale(0.885 1)">aPKC</text>
<text transform="translate(308.5 938.4) scale(0.885 1)">PAR6</text>
<text transform="translate(421.5 921.4) scale(0.885 1)">LKB1</text>
<text transform="translate(534.5 921.4) scale(0.885 1)">AMPK</text>
<text transform="translate(647.5 921.4) scale(0.885 1)">MLC2</text>
<text transform="translate(760.5 921.4) scale(0.885 1)" textLength="47.5" lengthAdjust="spacing">MyosinII</text>
<text transform="translate(421.5 965.4) scale(0.885 1)">SYNPO</text>
<text transform="translate(421.5 982.4) scale(0.885 1)">Actin</text>
<text transform="translate(421.5 999.4) scale(0.885 1)" textLength="47.5" lengthAdjust="spacing">α-Actinin4</text>
<text transform="translate(308.5 982.4) scale(0.885 1)">MAGI-1</text>
<text transform="translate(647.5 966.4) scale(0.885 1)">Rab8</text>
<text transform="translate(534.5 999.4) scale(0.885 1)">JRAB</text>
<text transform="translate(647.5 999.4) scale(0.885 1)">Rab13</text>
<text transform="translate(308.5 1034.4) scale(0.885 1)" textLength="47.5" lengthAdjust="spacing">PDZGEF2</text>
<text transform="translate(308.5 1061.4) scale(0.885 1)">Afadin</text>
<text transform="translate(308.5 1089.4) scale(0.885 1)">ZO-1/2</text>
<text transform="translate(421.5 1089.4) scale(0.885 1)" textLength="47.5" lengthAdjust="spacing">PDZGEF1</text>
<text transform="translate(534.5 1089.4) scale(0.885 1)">Rap2c</text>
<text transform="translate(647.5 1089.4) scale(0.885 1)">RhoA</text>
<text transform="translate(760.5 1089.4) scale(0.885 1)">ROCK</text>
<text transform="translate(873.5 1089.4) scale(0.885 1)">MLC2</text>
<text transform="translate(421.5 1045.4) scale(0.885 1)">Rap1A</text>
<text transform="translate(534.5 1045.4) scale(0.885 1)">Integrin</text>
<text transform="translate(308.5 1117.4) scale(0.885 1)">ZO-1</text>
<text transform="translate(308.5 1149.4) scale(0.885 1)">Tuba</text>
<text transform="translate(421.5 1149.4) scale(0.885 1)">Cdc42</text>
<text transform="translate(534.5 1149.4) scale(0.885 1)">WASP</text>
<text transform="translate(647.5 1131.4) scale(0.885 1)">Arp2/3</text>
<text transform="translate(647.5 1164.4) scale(0.885 1)">Actin</text>
</g>
<text transform="translate(52.8 63.6) scale(0.937 1)" style="font-size:15px;white-space:pre" xml:space="preserve">TIGHT  JUNCTION</text>
<text x="151.0" y="102.6" class="t">Paracellular</text>
<text x="151.8" y="113.4" class="t">space</text>
<text x="56.6" y="168.6">Inside</text>
<text x="54.5" y="663.0">Stress</text>
<text x="15.7" y="1224.0">04530 4/12/19</text>
<text x="15.7" y="1235.0">(c) Kanehisa Laboratories</text>
<text x="672.0" y="237.7" class="t">Adherens junction</text>
<text x="798.0" y="885.9" class="t">Regulation of actin cytoskeleton</text>
<text x="238.0" y="640.6" class="t">ER</text>
<text x="853.3" y="464.8" class="t">DNA</text>
<text x="853.3" y="519.6" class="t">DNA</text>
<text x="853.3" y="573.6" class="t">DNA</text>
<text x="294.8" y="684.8">Ca<tspan dy="-7" style="font-size:10px">2+</tspan></text>
<text x="1092.5" y="269.1">Cell polarity &amp; proliferation</text>
<text x="1092.5" y="308.1">Cell polarity</text>
<text x="1092.5" y="352.1">Cell polarity</text>
<text x="1094.5" y="396.1">Cell polarity</text>
<text x="1092.5" y="452.1">Decreased paracellular permeability</text>
<text x="1092.5" y="505.1">Cell survival</text>
<text x="1092.5" y="542.1">Reduced cell proliferation</text>
<text x="1092.5" y="579.1">Cell differentiation</text>
<text x="1092.5" y="621.1">Tight junction assembly</text>
<text x="1092.5" y="693.1">Tight junction disruption</text>
<text x="1092.5" y="769.1">Actin assembly</text>
<text x="1092.5" y="833.1">Tight junction assembly</text>
<text x="1092.5" y="920.1">Cell polarity</text>
<text x="1092.5" y="966.1">Adherens junction assembly</text>
<text x="1092.5" y="1000.1">Tight junction assembly</text>
<text x="1092.5" y="1044.1">Cell migration</text>
<text x="1092.5" y="1089.1">Decreased paracellular permeability</text>
<text x="1092.5" y="1149.1">Actin assembly</text>
<text x="266.5" y="276.0">-p</text>
<text x="364.5" y="289.0">+p</text>
<text x="311.5" y="316.0">+p</text>
<text x="589.5" y="398.5">+u</text>
<text x="357.5" y="494.5">+p</text>
<text x="468.5" y="494.5">+p</text>
<text x="469.5" y="603.5">+p</text>
<text x="300.5" y="706.5">+p</text>
<text x="357.5" y="738.5">+p</text>
<text x="230.5" y="784.5">-p</text>
<text x="471.5" y="804.5">+p</text>
<text x="310.5" y="897.5">+p</text>
<text x="349.5" y="895.5">+p</text>
<text x="355.5" y="925.5">+p</text>
<text x="471.5" y="925.5">+p</text>
<text x="582.5" y="925.5">+p</text>
</svg></body></html>
